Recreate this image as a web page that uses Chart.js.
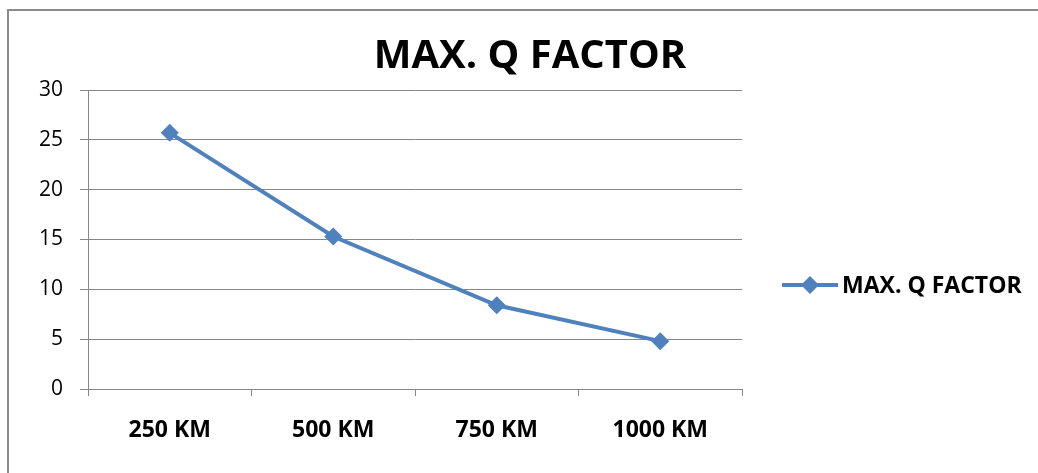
<!DOCTYPE html>
<html>
<head>
<meta charset="utf-8">
<script src="https://cdn.jsdelivr.net/npm/chart.js@4"></script>
<style>
  html, body { margin: 0; padding: 0; background: #fff; }
  #wrap { width: 1038px; height: 473px; }
</style>
</head>
<body>
<div id="wrap"><canvas id="qChart" width="1038" height="473"></canvas></div>
<script>
const categories = ['250 KM', '500 KM', '750 KM', '1000 KM'];
const qFactor = [25.7, 15.3, 8.4, 4.8];
const yTicks = [0, 5, 10, 15, 20, 25, 30];
const seriesName = 'MAX. Q FACTOR';

const lineColor = '#4F81BD';
const gridColor = '#868686';

// frame, title and legend drawn on top of the chart
const extras = {
  id: 'extras',
  afterDraw(chart) {
    const ctx = chart.ctx;
    ctx.save();
    ctx.strokeStyle = '#8A8A8A';
    ctx.lineWidth = 2;
    ctx.beginPath();
    ctx.moveTo(8, 473);
    ctx.lineTo(8, 10);
    ctx.lineTo(1038, 10);
    ctx.stroke();

    ctx.fillStyle = '#000';
    ctx.textBaseline = 'middle';
    ctx.textAlign = 'center';
    ctx.font = 'bold 40px "Open Sans"';
    ctx.fillText(seriesName, 530, 57);

    // legend
    const ly = 285;
    ctx.strokeStyle = lineColor;
    ctx.lineWidth = 4;
    ctx.beginPath();
    ctx.moveTo(782, ly);
    ctx.lineTo(838, ly);
    ctx.stroke();
    ctx.fillStyle = lineColor;
    ctx.beginPath();
    ctx.moveTo(810, ly - 9);
    ctx.lineTo(819, ly);
    ctx.lineTo(810, ly + 9);
    ctx.lineTo(801, ly);
    ctx.closePath();
    ctx.fill();
    ctx.fillStyle = '#000';
    ctx.textAlign = 'left';
    ctx.font = 'bold 23px "Open Sans"';
    ctx.fillText(seriesName, 842, ly + 1);
    ctx.restore();
  }
};

new Chart(document.getElementById('qChart'), {
  type: 'line',
  data: {
    labels: categories,
    datasets: [{
      label: seriesName,
      data: qFactor,
      borderColor: lineColor,
      backgroundColor: lineColor,
      borderWidth: 4,
      pointStyle: 'rectRot',
      pointRadius: 9,
      pointHoverRadius: 9,
      pointBorderWidth: 0,
      tension: 0
    }]
  },
  options: {
    responsive: false,
    animation: false,
    events: [],
    layout: { padding: { left: 8, top: 90, right: 296, bottom: 0 } },
    plugins: {
      legend: { display: false },
      title: { display: false },
      tooltip: { enabled: false }
    },
    scales: {
      x: {
        offset: true,
        afterFit(scale) { scale.height = 84; },
        grid: {
          offset: true,
          drawOnChartArea: false,
          color: gridColor,
          tickLength: 7
        },
        border: { color: gridColor, width: 1 },
        ticks: {
          color: '#000',
          padding: 21,
          font: { family: 'Open Sans', size: 23, weight: 'bold' }
        }
      },
      y: {
        min: 0,
        max: 30,
        afterFit(scale) { scale.width = 80; },
        afterBuildTicks(scale) { scale.ticks = yTicks.map(v => ({ value: v })); },
        grid: { color: gridColor, tickLength: 8 },
        border: { color: gridColor, width: 1 },
        ticks: {
          color: '#000',
          padding: 17,
          font: { family: 'Open Sans', size: 21 }
        }
      }
    }
  },
  plugins: [extras]
});
</script>
</body>
</html>
